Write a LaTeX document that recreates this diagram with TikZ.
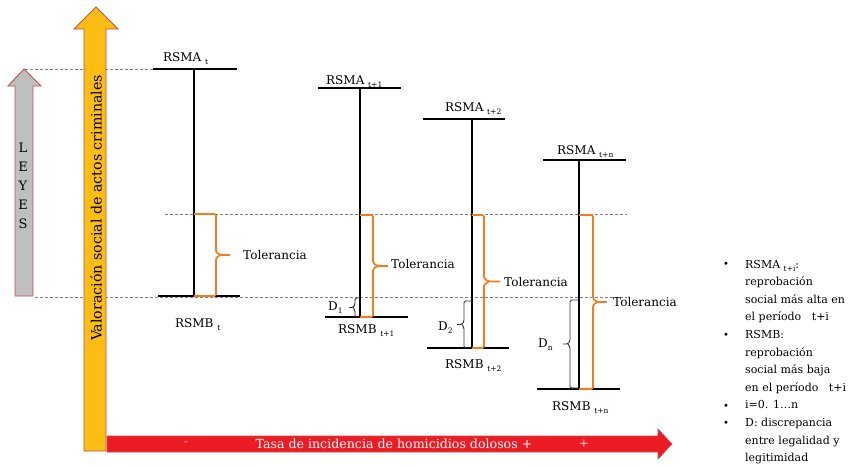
\documentclass[tikz,border=0pt]{standalone}
\usepackage{fontspec}
\setmainfont{DejaVu Serif}
\usetikzlibrary{positioning}
\definecolor{leyesgray}{HTML}{BFBFBF}
\definecolor{arrowedge}{HTML}{C0504D}
\definecolor{valorfill}{HTML}{FCBE14}
\definecolor{tasafill}{HTML}{ED1C24}
\definecolor{tolorange}{HTML}{F47B20}
\newcommand\lowidx[1]{{\fontsize{7.5}{8}\selectfont\raisebox{-3pt}{#1}}}
\newcommand\bracepath[6]{%
\draw[#1] (#2,#4) -- (#3,#4) -- (#3,{0.5*(#4+#5)-3}) -- ({#3+0.3*(#6-#3)},{0.5*(#4+#5)}) -- (#6,{0.5*(#4+#5)})
  ({#3+0.3*(#6-#3)},{0.5*(#4+#5)}) -- (#3,{0.5*(#4+#5)+3}) -- (#3,#5) -- (#2,#5);}

\begin{document}
\begin{tikzpicture}[x=1pt,y=-1pt,
  lab/.style={font=\fontsize{12}{14}\selectfont,inner sep=0pt},
  level/.style={line width=1.7pt},
  span/.style={line width=1.3pt},
  guide/.style={gray,dash pattern=on 3pt off 2pt,line width=0.7pt},
  tolbrace/.style={tolorange,line width=1.7pt,rounded corners=1.5pt},
  dbrace/.style={black!80,line width=0.9pt,rounded corners=1.5pt},
  bigarrow/.style={draw=arrowedge,line width=0.9pt}]
\useasboundingbox (0,0) rectangle (861,466);
% Drawing guide lines
\draw[guide] (25,69) -- (153,69);
\draw[guide] (165,214) -- (627,214);
\draw[guide] (35,297) -- (627,297);
% Done with guides; drawing arrows
\filldraw[bigarrow,fill=leyesgray] (15,296) -- (15,86) -- (8,86) -- (24,69) -- (41,86) -- (33,86) -- (33,296) -- cycle;
\node[lab,align=center,font=\fontsize{13}{19}\selectfont] (leyes) at (23,186) {L\\E\\Y\\E\\S};
\filldraw[bigarrow,fill=valorfill] (84,451) -- (84,29) -- (74,29) -- (96,7) -- (118,29) -- (106,29) -- (106,451) -- cycle;
\node[lab,rotate=90,font=\fontsize{14.2}{16}\selectfont] (valor) at (96,208) {Valoración social de actos criminales};
\filldraw[bigarrow,fill=tasafill,line width=0.6pt] (107,436) -- (658,436) -- (658,429) -- (672,444) -- (658,459) -- (658,452) -- (107,452) -- cycle;
\node[lab,text=white,font=\fontsize{12.6}{14}\selectfont] (tasa) at (394,444) {Tasa de incidencia de homicidios dolosos +};
\node[lab,text=red!20!white] (menos) at (186,444) {-};
\node[lab,text=red!20!white] (mas) at (584,444) {+};
% Done with arrows; drawing periods
% Period t
\coordinate (a0) at (194,69);
\coordinate (b0) at (194,296);
\draw[level] (153,69) -- (237,69);
\draw[level,line width=2.2pt] (158,296) -- (240,296);
\draw[span] (a0) -- (b0);
\node[lab,anchor=base west] (rsma0) at (163,61) {RSMA \lowidx{t}};
\node[lab,anchor=base west] (rsmb0) at (175,327) {RSMB \lowidx{t}};
\bracepath{tolbrace}{194}{216}{214}{296}{230}
\node[lab,anchor=base west] (tol0) at (243,259) {Tolerancia};
% Period t+1
\coordinate (a1) at (360,88);
\coordinate (b1) at (360,317);
\draw[level] (318,88) -- (401,88);
\draw[level] (325,317) -- (408,317);
\draw[span] (a1) -- (b1);
\node[lab,anchor=base west] (rsma1) at (326,84) {RSMA \lowidx{t+1}};
\node[lab,anchor=base west] (rsmb1) at (338,333) {RSMB \lowidx{t+1}};
\bracepath{tolbrace}{360}{373}{215}{317}{388}
\node[lab,anchor=base west] (tol1) at (391,268) {Tolerancia};
\bracepath{dbrace}{360}{355}{298}{317}{349}
\node[lab,anchor=base west] (d1) at (328,310) {D\lowidx{1}};
% Period t+2
\coordinate (a2) at (472,119);
\coordinate (b2) at (472,348);
\draw[level] (423,119) -- (505,119);
\draw[level] (427,348) -- (509,348);
\draw[span] (a2) -- (b2);
\node[lab,anchor=base west] (rsma2) at (445,111) {RSMA \lowidx{t+2}};
\node[lab,anchor=base west] (rsmb2) at (445,368) {RSMB \lowidx{t+2}};
\bracepath{tolbrace}{472}{484}{215}{348}{500}
\node[lab,anchor=base west] (tol2) at (504,286) {Tolerancia};
\bracepath{dbrace}{472}{464}{301}{348}{457}
\node[lab,anchor=base west] (d2) at (438,330) {D\lowidx{2}};
% Period t+n
\coordinate (a3) at (579,160);
\coordinate (b3) at (579,389);
\draw[level] (543,160) -- (626,160);
\draw[level] (537,389) -- (620,389);
\draw[span] (a3) -- (b3);
\node[lab,anchor=base west] (rsma3) at (557,154) {RSMA \lowidx{t+n}};
\node[lab,anchor=base west] (rsmb3) at (552,410) {RSMB \lowidx{t+n}};
\bracepath{tolbrace}{579}{593}{215}{389}{607}
\node[lab,anchor=base west] (tol3) at (613,306) {Tolerancia};
\bracepath{dbrace}{579}{570}{300}{388}{563}
\node[lab,anchor=base west] (dn) at (538,347) {D\lowidx{n}};
% Done with periods; drawing the notes
\node[lab,anchor=west,align=left,font=\fontsize{11}{17.6}\selectfont] (notes) at (745,362)
  {RSMA \lowidx{t+i}:\\reprobación\\social más alta en\\el período~~~t+i\\RSMB:\\reprobación\\social más baja\\en el período~~~t+i\\i=0. 1…n\\D: discrepancia\\entre legalidad y\\legitimidad};
\foreach \y/\n in {265/1,336/2,407/3,424/4}
  \node[lab,font=\fontsize{10}{10}\selectfont] (dot\n) at (726,\y) {•};
% Done with notes
\end{tikzpicture}
\end{document}
